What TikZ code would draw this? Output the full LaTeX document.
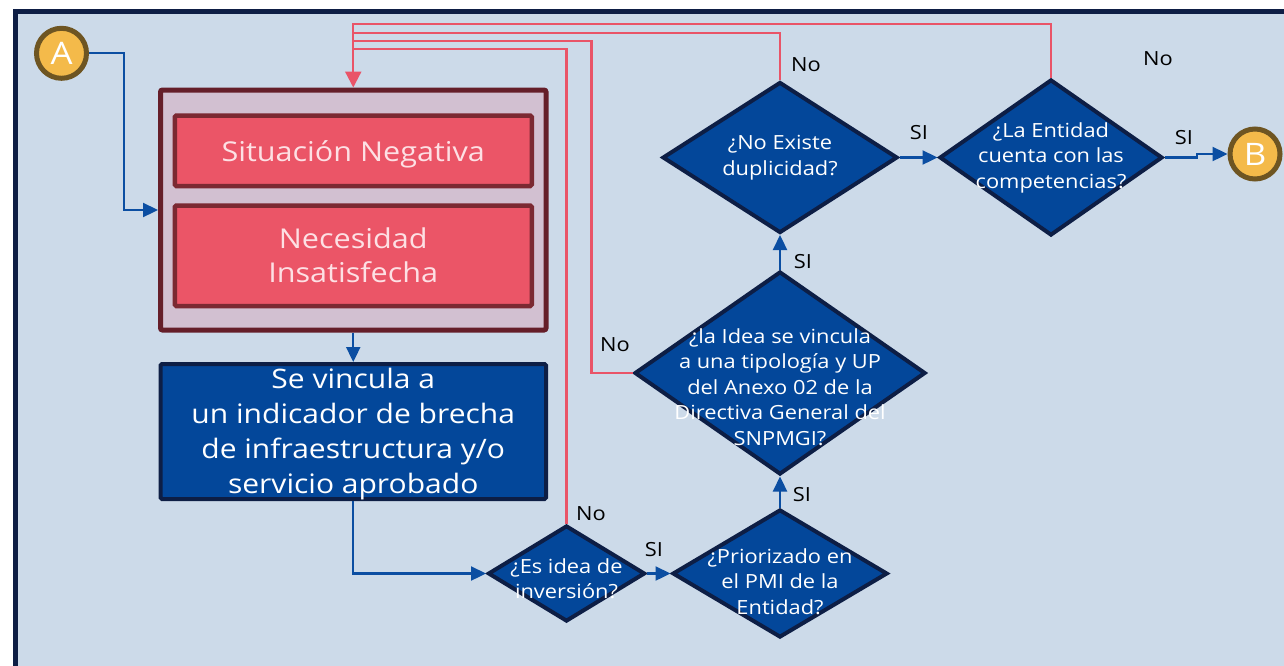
\documentclass[tikz,border=0pt]{standalone}
\usepackage{fontspec}
\setmainfont{Open Sans}[FakeStretch=1.12]
\usetikzlibrary{arrows.meta,shapes.geometric}
\definecolor{bgclr}{RGB}{204,218,233}
\definecolor{frameclr}{RGB}{14,30,69}
\definecolor{dblue}{RGB}{3,71,154}
\definecolor{dnavy}{RGB}{13,30,69}
\definecolor{redfill}{RGB}{235,85,103}
\definecolor{redborder}{RGB}{123,41,50}
\definecolor{pinkfill}{RGB}{210,192,209}
\definecolor{pinkborder}{RGB}{101,30,41}
\definecolor{redline}{RGB}{233,84,104}
\definecolor{bluearrow}{RGB}{11,78,162}
\definecolor{circfill}{RGB}{244,186,74}
\definecolor{circborder}{RGB}{110,85,34}
\definecolor{pinktext}{RGB}{253,224,228}
\tikzset{
  decision/.style={diamond, draw=dnavy, line width=4pt, fill=dblue, inner sep=0pt},
  dtext/.style={text=white, font=\fontsize{19.5}{25.5}\selectfont, align=center, inner sep=0pt},
  redbox/.style={rectangle, draw=redborder, line width=4.5pt, fill=redfill, text=pinktext,
    font=\fontsize{27.3}{34}\selectfont, align=center, rounded corners=1.5pt, inner sep=0pt},
  rtext/.style={text=pinktext, font=\fontsize{27.3}{34}\selectfont, align=center, inner sep=0pt},
  btext/.style={text=white, font=\fontsize{26.8}{35}\selectfont, align=center, inner sep=0pt},
  connector/.style={circle, draw=circborder, line width=5pt, fill=circfill, minimum size=50pt,
    inner sep=0pt, text=white, font=\fontsize{31}{31}\selectfont},
  yesflow/.style={draw=bluearrow, line width=2.3pt, -{Triangle[length=15pt,width=14pt]}},
  noflow/.style={draw=redline, line width=2.3pt},
  lbl/.style={font=\fontsize{19.5}{20}\selectfont, text=black, inner sep=0pt}
}
\begin{document}
\begin{tikzpicture}[x=1pt,y=-1pt]
\useasboundingbox (0,0) rectangle (1284,665);
\draw[line width=5pt, draw=frameclr, fill=bgclr] (15,11) rectangle (1310,700);

% connectors A and B
\node[connector] (A) at (61.5,53.3) {A};
\node[connector] (B) at (1255,154) {B};

% left boxes
\node[rectangle, draw=pinkborder, fill=pinkfill, line width=5pt, rounded corners=2pt,
  minimum width=385.5pt, minimum height=240pt, inner sep=0pt] (pinkbox) at (353.25,210) {};
\node[redbox, minimum width=357pt, minimum height=70.5pt,
  label={[rtext, name=negt, yshift=-4pt]center:Situación Negativa}] (neg) at (353.25,150.75) {};
\node[redbox, minimum width=357pt, minimum height=100.5pt] (nec) at (353.25,255.75) {Necesidad\\Insatisfecha};
\node[rectangle, draw=dnavy, fill=dblue, line width=4pt, rounded corners=1.5pt,
  minimum width=385.5pt, minimum height=135pt, inner sep=0pt,
  label={[btext, name=vinct, yshift=-3pt]center:Se vincula a\\un indicador de brecha\\de infraestructura y/o\\servicio aprobado}]
  (vinc) at (353.25,431.5) {};

% decisions
\node[decision, minimum width=157pt, minimum height=96pt,
  label={[dtext, name=d1t, yshift=-5pt]center:¿Es idea de\\inversión?}] (d1) at (566.5,573.5) {};
\node[decision, minimum width=215pt, minimum height=128pt,
  label={[dtext, name=d2t, yshift=-8pt]center:¿Priorizado en\\el PMI de la\\Entidad?}] (d2) at (780,573.5) {};
\node[decision, minimum width=291pt, minimum height=203pt,
  label={[dtext, name=d3t, yshift=-14pt]center:¿la Idea se vincula\\a una tipología y UP\\del Anexo 02 de la\\Directiva General del\\SNPMGI?}] (d3) at (780,373) {};
\node[decision, minimum width=235pt, minimum height=151pt,
  label={[dtext, name=d4t]center:¿No Existe\\duplicidad?}] (d4) at (780,157.5) {};
\node[decision, minimum width=223pt, minimum height=156pt,
  label={[dtext, name=d5t]center:¿La Entidad\\cuenta con las\\competencias?}] (d5) at (1051,157.5) {};

% blue flow
\draw[yesflow] (A.east) -- ++(35,0) |- (pinkbox.west);
\draw[yesflow] (pinkbox.south) -- (vinc.north);
\draw[yesflow] (vinc.south) |- (d1.west);
\draw[yesflow] (d1.east) -- (d2.west);
\draw[yesflow] (d2.north) -- (d3.south);
\draw[yesflow] (d3.north) -- (d4.south);
\draw[yesflow] (d4.east) -- (d5.west);
\coordinate (jog) at (1197,157.5);
\draw[yesflow] (d5.east) -- (jog) |- (B.west);

% red return lines
\coordinate (r1) at (353.25,24);
\coordinate (r2) at (353.25,33);
\coordinate (r3) at (353.25,41);
\coordinate (r4) at (353.25,49);
\draw[noflow, -{Triangle[length=16pt,width=16pt]}] (d5.north) |- (r1) -- (pinkbox.north);
\draw[noflow] (d4.north) |- (r2);
\draw[noflow] (d3.west) -- ++(-41,0) |- (r3);
\draw[noflow] (d1.north) |- (r4);

% labels
\node[lbl] (n1) at (591,514) {No};
\node[lbl] (s1) at (654,550) {SI};
\node[lbl] (s2) at (802,495) {SI};
\node[lbl] (n3) at (615,345) {No};
\node[lbl] (s3) at (803,262) {SI};
\node[lbl] (n4) at (806,65) {No};
\node[lbl] (s4) at (919,133) {SI};
\node[lbl] (n5) at (1158,59) {No};
\node[lbl] (s5) at (1184,138) {SI};
\end{tikzpicture}
\end{document}
